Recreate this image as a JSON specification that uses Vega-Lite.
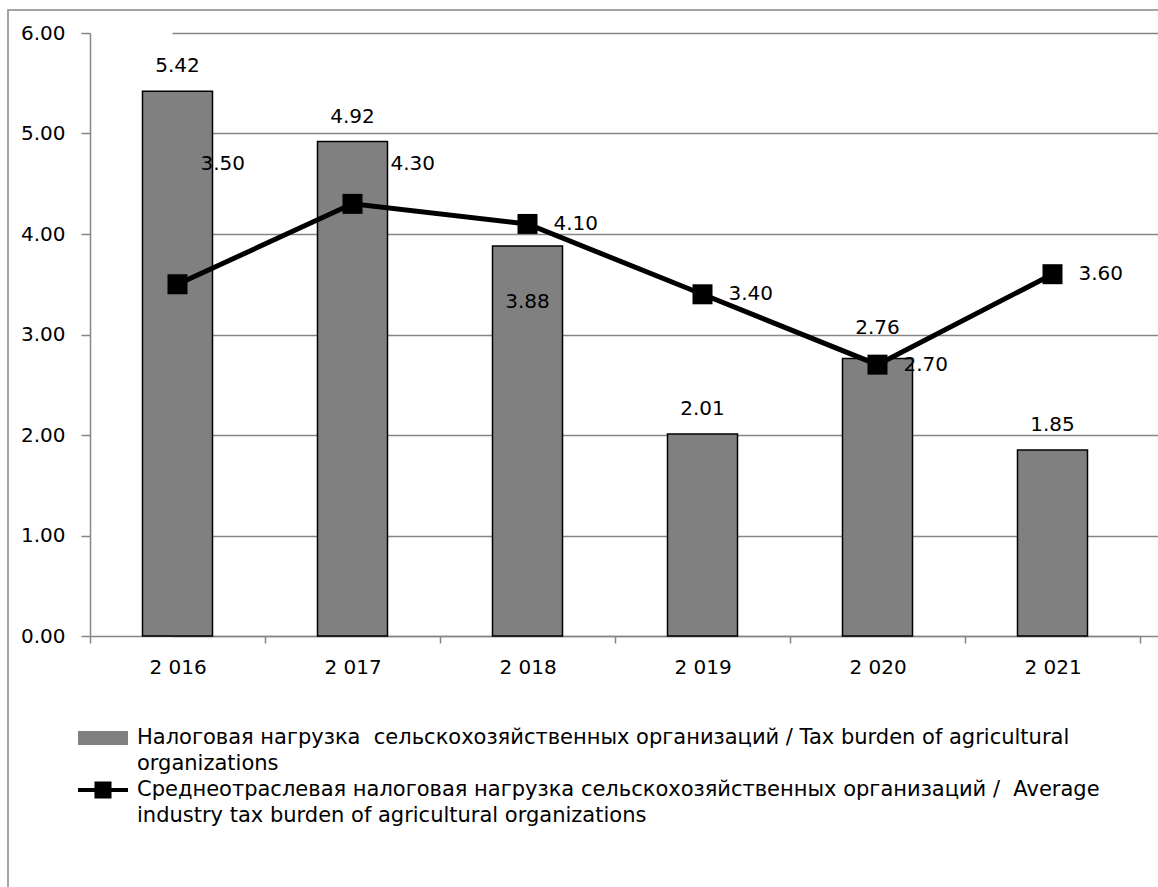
{
  "$schema": "https://vega.github.io/schema/vega-lite/v6.json",
  "width": 1200,
  "height": 950,
  "autosize": {"type": "none"},
  "padding": {"left": 8, "top": 10, "right": 0, "bottom": 0},
  "background": "white",
  "config": {
    "font": "DejaVu Sans",
    "style": {"guide-label": {"lineHeight": 26}},
    "view": {"stroke": "#868686", "strokeWidth": 1.5},
    "axisX": {
      "title": null, "grid": false, "offset": -324,
      "labelFont": "DejaVu Sans", "labelFontSize": 20, "labelColor": "black", "labelAngle": 0,
      "domainColor": "#868686", "domainWidth": 1.5,
      "tickColor": "#868686", "tickWidth": 1.5, "tickSize": 7, "tickBand": "extent",
      "labelPadding": 14
    },
    "axisY": {
      "title": null, "grid": true, "offset": -82,
      "gridColor": "#868686", "gridWidth": 1.5,
      "labelFont": "DejaVu Sans", "labelFontSize": 20, "labelColor": "black",
      "domainColor": "#868686", "domainWidth": 1.5,
      "tickColor": "#868686", "tickWidth": 1.5, "tickSize": 9,
      "labelPadding": 16
    },
    "legend": {
      "orient": "none", "legendX": 79, "legendY": 712, "padding": 0,
      "symbolSize": 900, "symbolStrokeWidth": 1.5, "symbolStrokeColor": "black",
      "labelFont": "DejaVu Sans", "labelFontSize": 21, "labelColor": "black",
      "labelLimit": 1100, "labelOffset": 18, "rowPadding": -1, "title": null
    }
  },
  "data": {
    "values": [
      {"year": 2016, "series": "Налоговая нагрузка  сельскохозяйственных организаций / Tax burden of agricultural organizations", "kind": "bar", "value": 5.42},
      {"year": 2017, "series": "Налоговая нагрузка  сельскохозяйственных организаций / Tax burden of agricultural organizations", "kind": "bar", "value": 4.92},
      {"year": 2018, "series": "Налоговая нагрузка  сельскохозяйственных организаций / Tax burden of agricultural organizations", "kind": "bar", "value": 3.88},
      {"year": 2019, "series": "Налоговая нагрузка  сельскохозяйственных организаций / Tax burden of agricultural organizations", "kind": "bar", "value": 2.01},
      {"year": 2020, "series": "Налоговая нагрузка  сельскохозяйственных организаций / Tax burden of agricultural organizations", "kind": "bar", "value": 2.76},
      {"year": 2021, "series": "Налоговая нагрузка  сельскохозяйственных организаций / Tax burden of agricultural organizations", "kind": "bar", "value": 1.85},
      {"year": 2016, "series": "Среднеотраслевая налоговая нагрузка сельскохозяйственных организаций /  Average industry tax burden of agricultural organizations", "kind": "line", "value": 3.50},
      {"year": 2017, "series": "Среднеотраслевая налоговая нагрузка сельскохозяйственных организаций /  Average industry tax burden of agricultural organizations", "kind": "line", "value": 4.30},
      {"year": 2018, "series": "Среднеотраслевая налоговая нагрузка сельскохозяйственных организаций /  Average industry tax burden of agricultural organizations", "kind": "line", "value": 4.10},
      {"year": 2019, "series": "Среднеотраслевая налоговая нагрузка сельскохозяйственных организаций /  Average industry tax burden of agricultural organizations", "kind": "line", "value": 3.40},
      {"year": 2020, "series": "Среднеотраслевая налоговая нагрузка сельскохозяйственных организаций /  Average industry tax burden of agricultural organizations", "kind": "line", "value": 2.70},
      {"year": 2021, "series": "Среднеотраслевая налоговая нагрузка сельскохозяйственных организаций /  Average industry tax burden of agricultural organizations", "kind": "line", "value": 3.60}
    ]
  },
  "encoding": {
    "x": {
      "field": "year", "type": "ordinal",
      "scale": {"range": [82, 1132], "paddingInner": 0, "paddingOuter": 0},
      "axis": {"labelExpr": "isNumber(datum.value) ? replace(format(datum.value, ','), ',', ' ') : ''"}
    }
  },
  "layer": [
    {
      "transform": [{"filter": "datum.kind == 'bar'"}],
      "mark": {"type": "bar", "width": {"band": 0.4}, "fill": "#808080", "stroke": "black", "strokeWidth": 1.5},
      "encoding": {
        "y": {"field": "value", "type": "quantitative",
              "scale": {"domain": [0, 6], "range": [626, 23], "nice": false, "zero": true},
              "axis": {"values": [0, 1, 2, 3, 4, 5, 6], "format": ".2f"}}
      }
    },
    {
      "transform": [{"filter": "datum.kind == 'line'"}],
      "mark": {"type": "line", "stroke": "black", "strokeWidth": 5},
      "encoding": {"y": {"field": "value", "type": "quantitative"}}
    },
    {
      "transform": [{"filter": "datum.kind == 'line'"}],
      "mark": {"type": "point", "shape": "square", "filled": true, "fill": "black", "size": 400, "opacity": 1},
      "encoding": {"y": {"field": "value", "type": "quantitative"}}
    },
    {
      "transform": [{"filter": "datum.kind == 'bar' && datum.year != 2018 && datum.year != 2020"}],
      "mark": {"type": "text", "baseline": "bottom", "dy": -15, "fontSize": 20, "font": "DejaVu Sans", "fill": "black"},
      "encoding": {"y": {"field": "value", "type": "quantitative"}, "text": {"field": "value", "type": "quantitative", "format": ".2f"}}
    },
    {
      "transform": [{"filter": "datum.kind == 'bar' && datum.year == 2020"}],
      "mark": {"type": "text", "baseline": "bottom", "dy": -21, "fontSize": 20, "font": "DejaVu Sans", "fill": "black"},
      "encoding": {"y": {"field": "value", "type": "quantitative"}, "text": {"field": "value", "type": "quantitative", "format": ".2f"}}
    },
    {
      "transform": [{"filter": "datum.kind == 'bar' && datum.year == 2018"}],
      "mark": {"type": "text", "baseline": "middle", "dy": 56, "fontSize": 20, "font": "DejaVu Sans", "fill": "black"},
      "encoding": {"y": {"field": "value", "type": "quantitative"}, "text": {"field": "value", "type": "quantitative", "format": ".2f"}}
    },
    {
      "transform": [{"filter": "datum.kind == 'line' && datum.year >= 2018"}],
      "mark": {"type": "text", "align": "left", "baseline": "middle", "dx": 26, "fontSize": 20, "font": "DejaVu Sans", "fill": "black"},
      "encoding": {"y": {"field": "value", "type": "quantitative"}, "text": {"field": "value", "type": "quantitative", "format": ".2f"}}
    },
    {
      "transform": [{"filter": "datum.kind == 'line' && datum.year == 2016"}],
      "mark": {"type": "text", "align": "left", "baseline": "middle", "dx": 23, "dy": -120, "fontSize": 20, "font": "DejaVu Sans", "fill": "black"},
      "encoding": {"y": {"field": "value", "type": "quantitative"}, "text": {"field": "value", "type": "quantitative", "format": ".2f"}}
    },
    {
      "transform": [{"filter": "datum.kind == 'line' && datum.year == 2017"}],
      "mark": {"type": "text", "align": "left", "baseline": "middle", "dx": 38, "dy": -40, "fontSize": 20, "font": "DejaVu Sans", "fill": "black"},
      "encoding": {"y": {"field": "value", "type": "quantitative"}, "text": {"field": "value", "type": "quantitative", "format": ".2f"}}
    },
    {
      "mark": {"type": "point", "filled": true, "opacity": 0, "stroke": "black", "strokeWidth": 1.5},
      "encoding": {
        "y": {"field": "value", "type": "quantitative"},
        "shape": {
          "field": "series", "type": "nominal",
          "scale": {
            "domain": ["Налоговая нагрузка  сельскохозяйственных организаций / Tax burden of agricultural organizations", "Среднеотраслевая налоговая нагрузка сельскохозяйственных организаций /  Average industry tax burden of agricultural organizations"],
            "range": ["M-1.667,-0.467H1.667V0.467H-1.667Z", "M-1.667,-0.133H1.667V0.133H-1.667ZM-0.567,-0.567H0.567V0.567H-0.567Z"]
          },
          "legend": {
            "title": null,
            "labelExpr": "indexof(datum.label, 'Средне') == 0 ? ['Среднеотраслевая налоговая нагрузка сельскохозяйственных организаций / \u00a0Average', 'industry tax burden of agricultural organizations'] : ['Налоговая нагрузка \u00a0сельскохозяйственных организаций / Tax burden of agricultural', 'organizations']",
            "symbolOpacity": 1,
            "encode": {
              "symbols": {"update": {"opacity": {"value": 1}, "stroke": {"value": "black"}, "strokeWidth": {"value": 1.5}}},
              "labels": {"update": {"dy": {"value": 13}}}
            }
          }
        },
        "fill": {
          "field": "series", "type": "nominal",
          "scale": {
            "domain": ["Налоговая нагрузка  сельскохозяйственных организаций / Tax burden of agricultural organizations", "Среднеотраслевая налоговая нагрузка сельскохозяйственных организаций /  Average industry tax burden of agricultural organizations"],
            "range": ["#808080", "#000000"]
          },
          "legend": {"title": null}
        }
      }
    }
  ]
}
